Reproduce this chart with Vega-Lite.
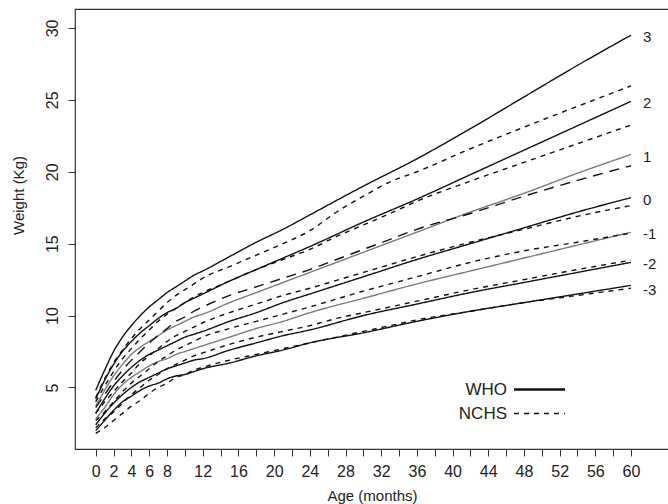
{
  "$schema": "https://vega.github.io/schema/vega-lite/v6.json",
  "width": 594,
  "height": 440,
  "autosize": {"type": "none"},
  "padding": {"left": 75, "top": 9, "right": 0, "bottom": 55},
  "background": "white",
  "config": {
    "font": "Liberation Sans",
    "view": {"stroke": "#333333", "strokeWidth": 1.2},
    "axis": {
      "grid": false, "domain": false, "tickColor": "#333333", "tickSize": 7, "tickWidth": 1,
      "labelColor": "#222222", "titleColor": "#222222", "labelFont": "Liberation Sans", "titleFont": "Liberation Sans",
      "labelFontSize": 16, "titleFontSize": 15, "titleFontWeight": "normal"
    }
  },
  "datasets": {
    "curves": [
      {"src":"WHO","age":0,"-3":2.0,"-2":2.4,"-1":2.8,"0":3.2,"1":3.7,"2":4.2,"3":4.8},
      {"src":"WHO","age":1,"-3":2.7,"-2":3.2,"-1":3.6,"0":4.2,"1":4.8,"2":5.5,"3":6.2},
      {"src":"WHO","age":2,"-3":3.4,"-2":3.9,"-1":4.5,"0":5.1,"1":5.8,"2":6.6,"3":7.5},
      {"src":"WHO","age":3,"-3":4.0,"-2":4.5,"-1":5.2,"0":5.8,"1":6.6,"2":7.5,"3":8.5},
      {"src":"WHO","age":4,"-3":4.4,"-2":5.0,"-1":5.7,"0":6.4,"1":7.3,"2":8.2,"3":9.3},
      {"src":"WHO","age":5,"-3":4.8,"-2":5.4,"-1":6.1,"0":6.9,"1":7.8,"2":8.8,"3":10.0},
      {"src":"WHO","age":6,"-3":5.1,"-2":5.7,"-1":6.5,"0":7.3,"1":8.2,"2":9.3,"3":10.6},
      {"src":"WHO","age":7,"-3":5.3,"-2":6.0,"-1":6.8,"0":7.6,"1":8.6,"2":9.8,"3":11.1},
      {"src":"WHO","age":8,"-3":5.6,"-2":6.3,"-1":7.0,"0":7.9,"1":9.0,"2":10.2,"3":11.6},
      {"src":"WHO","age":9,"-3":5.8,"-2":6.5,"-1":7.3,"0":8.2,"1":9.3,"2":10.5,"3":12.0},
      {"src":"WHO","age":10,"-3":5.9,"-2":6.7,"-1":7.5,"0":8.5,"1":9.6,"2":10.9,"3":12.4},
      {"src":"WHO","age":11,"-3":6.1,"-2":6.9,"-1":7.7,"0":8.7,"1":9.9,"2":11.2,"3":12.8},
      {"src":"WHO","age":12,"-3":6.3,"-2":7.0,"-1":7.9,"0":8.9,"1":10.1,"2":11.5,"3":13.1},
      {"src":"WHO","age":15,"-3":6.7,"-2":7.6,"-1":8.5,"0":9.6,"1":10.9,"2":12.4,"3":14.1},
      {"src":"WHO","age":18,"-3":7.2,"-2":8.1,"-1":9.1,"0":10.2,"1":11.6,"2":13.2,"3":15.1},
      {"src":"WHO","age":21,"-3":7.6,"-2":8.6,"-1":9.6,"0":10.9,"1":12.3,"2":14.0,"3":16.0},
      {"src":"WHO","age":24,"-3":8.1,"-2":9.0,"-1":10.2,"0":11.5,"1":13.0,"2":14.8,"3":17.0},
      {"src":"WHO","age":30,"-3":8.8,"-2":10.0,"-1":11.2,"0":12.7,"1":14.4,"2":16.5,"3":19.0},
      {"src":"WHO","age":36,"-3":9.6,"-2":10.8,"-1":12.2,"0":13.9,"1":15.8,"2":18.1,"3":20.9},
      {"src":"WHO","age":42,"-3":10.3,"-2":11.6,"-1":13.1,"0":15.0,"1":17.2,"2":19.8,"3":23.0},
      {"src":"WHO","age":48,"-3":10.9,"-2":12.3,"-1":14.0,"0":16.1,"1":18.5,"2":21.5,"3":25.2},
      {"src":"WHO","age":54,"-3":11.5,"-2":13.0,"-1":14.9,"0":17.2,"1":19.9,"2":23.2,"3":27.4},
      {"src":"WHO","age":60,"-3":12.1,"-2":13.7,"-1":15.8,"0":18.2,"1":21.2,"2":24.9,"3":29.5},
      {"src":"NCHS","age":0,"-3":1.8,"-2":2.2,"-1":2.7,"0":3.2,"1":3.6,"2":4.0,"3":4.3},
      {"src":"NCHS","age":1,"-3":2.2,"-2":2.8,"-1":3.3,"0":4.0,"1":4.5,"2":5.1,"3":5.6},
      {"src":"NCHS","age":2,"-3":2.7,"-2":3.3,"-1":4.0,"0":4.7,"1":5.4,"2":6.1,"3":6.7},
      {"src":"NCHS","age":3,"-3":3.2,"-2":3.9,"-1":4.7,"0":5.4,"1":6.2,"2":7.0,"3":7.6},
      {"src":"NCHS","age":4,"-3":3.7,"-2":4.5,"-1":5.3,"0":6.0,"1":6.9,"2":7.7,"3":8.4},
      {"src":"NCHS","age":5,"-3":4.1,"-2":5.0,"-1":5.8,"0":6.7,"1":7.5,"2":8.4,"3":9.1},
      {"src":"NCHS","age":6,"-3":4.6,"-2":5.5,"-1":6.3,"0":7.2,"1":8.1,"2":9.0,"3":9.7},
      {"src":"NCHS","age":7,"-3":5.0,"-2":5.9,"-1":6.8,"0":7.7,"1":8.6,"2":9.6,"3":10.3},
      {"src":"NCHS","age":8,"-3":5.3,"-2":6.3,"-1":7.2,"0":8.2,"1":9.1,"2":10.1,"3":10.9},
      {"src":"NCHS","age":9,"-3":5.7,"-2":6.6,"-1":7.6,"0":8.6,"1":9.6,"2":10.5,"3":11.4},
      {"src":"NCHS","age":10,"-3":5.9,"-2":6.9,"-1":7.9,"0":8.9,"1":9.9,"2":10.9,"3":11.8},
      {"src":"NCHS","age":11,"-3":6.2,"-2":7.2,"-1":8.2,"0":9.2,"1":10.3,"2":11.3,"3":12.2},
      {"src":"NCHS","age":12,"-3":6.4,"-2":7.4,"-1":8.5,"0":9.5,"1":10.6,"2":11.6,"3":12.6},
      {"src":"NCHS","age":15,"-3":6.9,"-2":8.0,"-1":9.1,"0":10.2,"1":11.4,"2":12.4,"3":13.4},
      {"src":"NCHS","age":18,"-3":7.3,"-2":8.5,"-1":9.6,"0":10.8,"1":12.0,"2":13.2,"3":14.2},
      {"src":"NCHS","age":21,"-3":7.7,"-2":8.9,"-1":10.1,"0":11.4,"1":12.6,"2":13.9,"3":15.0},
      {"src":"NCHS","age":24,"-3":8.1,"-2":9.3,"-1":10.6,"0":11.9,"1":13.2,"2":14.6,"3":15.9},
      {"src":"NCHS","age":27,"-3":8.5,"-2":9.8,"-1":11.15,"0":12.45,"1":13.9,"2":15.5,"3":17.2},
      {"src":"NCHS","age":30,"-3":8.9,"-2":10.2,"-1":11.7,"0":13.0,"1":14.6,"2":16.3,"3":18.3},
      {"src":"NCHS","age":33,"-3":9.3,"-2":10.6,"-1":12.2,"0":13.55,"1":15.3,"2":17.1,"3":19.3},
      {"src":"NCHS","age":36,"-3":9.7,"-2":11.0,"-1":12.7,"0":14.1,"1":16.0,"2":17.95,"3":20.0},
      {"src":"NCHS","age":42,"-3":10.3,"-2":11.8,"-1":13.7,"0":15.1,"1":17.1,"2":19.35,"3":21.6},
      {"src":"NCHS","age":48,"-3":10.9,"-2":12.5,"-1":14.5,"0":16.0,"1":18.3,"2":20.65,"3":23.1},
      {"src":"NCHS","age":54,"-3":11.4,"-2":13.2,"-1":15.1,"0":16.9,"1":19.4,"2":21.95,"3":24.55},
      {"src":"NCHS","age":60,"-3":11.9,"-2":13.85,"-1":15.74,"0":17.65,"1":20.42,"2":23.25,"3":25.97}
    ]
  },
  "encoding": {
    "x": {
      "field": "age", "type": "quantitative",
      "scale": {"domain": [-2.32, 64.26], "nice": false, "zero": false},
      "axis": {
        "title": "Age (months)",
        "values": [0,2,4,6,8,10,12,14,16,18,20,22,24,26,28,30,32,34,36,38,40,42,44,46,48,50,52,54,56,58,60],
        "labelExpr": "(datum.value <= 8 || datum.value % 4 === 0) ? datum.label : ''",
        "labelPadding": 7, "titlePadding": 9, "labelFlush": false, "labelOverlap": false
      }
    },
    "y": {
      "field": "w", "type": "quantitative",
      "scale": {"domain": [0.72, 31.32], "nice": false, "zero": false},
      "axis": {
        "title": "Weight (Kg)",
        "values": [5, 10, 15, 20, 25, 30],
        "labelAngle": -90, "labelAlign": "center", "labelBaseline": "middle", "labelPadding": 16,
        "titleAngle": -90, "titleAlign": "center", "titleBaseline": "middle", "titleX": -57, "titleY": 186
      }
    }
  },
  "layer": [
    {
      "data": {"name": "curves"},
      "transform": [
        {"filter": "datum.src === 'WHO'"},
        {"fold": ["-3", "-2", "-1", "0", "1", "2", "3"], "as": ["z", "w"]}
      ],
      "mark": {"type": "line", "interpolate": "monotone", "strokeWidth": 1.4},
      "encoding": {
        "detail": {"field": "z"},
        "color": {"condition": {"test": "datum.z === '1' || datum.z === '-1'", "value": "#7a7a7a"}, "value": "#111111"},
        "strokeDash": {
          "field": "src", "type": "nominal",
          "scale": {"domain": ["WHO", "NCHS"], "range": [[1, 0], [5, 5]]},
          "legend": {
            "title": null, "orient": "none", "legendX": 456, "legendY": 372, "padding": 0,
            "symbolType": "stroke", "symbolSize": 2601, "symbolStrokeColor": "#111111", "symbolStrokeWidth": 1.6,
            "labelAlign": "right", "labelOffset": -41, "labelFontSize": 17, "labelColor": "#222222",
            "labelFont": "Liberation Sans", "labelLimit": 200, "rowPadding": 6,
            "encode": {"symbols": {"update": {"strokeWidth": {"signal": "datum.value === 'WHO' ? 2.4 : 1.4"}}}}
          }
        }
      }
    },
    {
      "data": {"name": "curves"},
      "transform": [
        {"filter": "datum.src === 'NCHS'"},
        {"fold": ["-3", "-2", "-1", "0", "1", "2", "3"], "as": ["z", "w"]}
      ],
      "mark": {"type": "line", "interpolate": "monotone", "strokeWidth": 1.4, "color": "#111111"},
      "encoding": {
        "detail": {"field": "z"},
        "strokeDash": {"condition": {"test": "datum.z === '1'", "value": [10, 7]}, "field": "src", "type": "nominal"}
      }
    },
    {
      "data": {"name": "curves"},
      "transform": [
        {"filter": "datum.src === 'WHO' && datum.age === 60"},
        {"fold": ["-3", "-2", "-1", "0", "1", "2", "3"], "as": ["z", "w"]},
        {"filter": "datum.z !== '-3'"}
      ],
      "mark": {"type": "text", "align": "left", "baseline": "middle", "dx": 12, "dy": 2, "fontSize": 15, "color": "#222222"},
      "encoding": {
        "text": {"field": "z"}
      }
    },
    {
      "data": {"name": "curves"},
      "transform": [
        {"filter": "datum.src === 'WHO' && datum.age === 60"},
        {"fold": ["-3", "-2", "-1", "0", "1", "2", "3"], "as": ["z", "w"]},
        {"filter": "datum.z === '-3'"}
      ],
      "mark": {"type": "text", "align": "left", "baseline": "middle", "dx": 12, "dy": 5, "fontSize": 15, "color": "#222222"},
      "encoding": {
        "text": {"field": "z"}
      }
    }
  ]
}
